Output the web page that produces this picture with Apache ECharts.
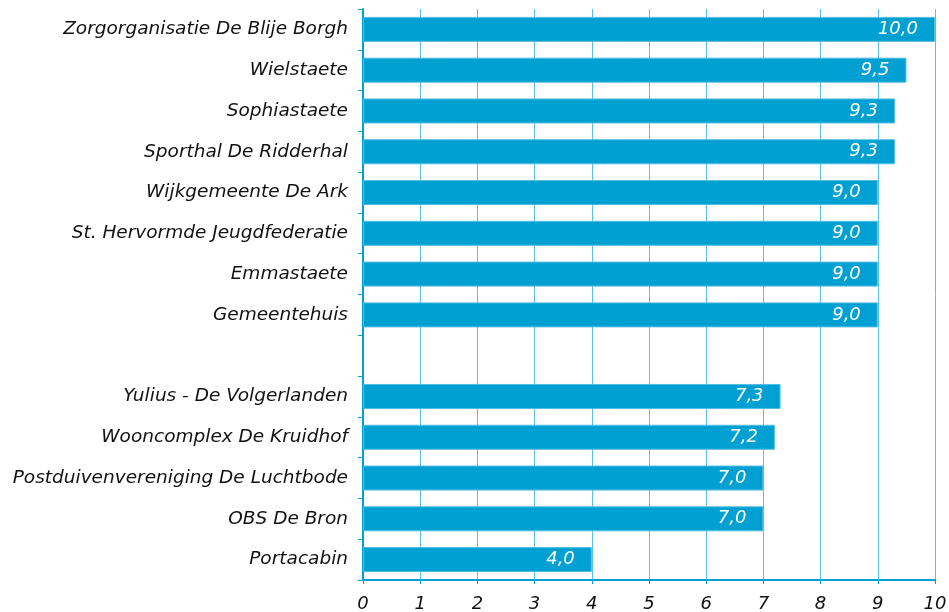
<!DOCTYPE html>
<html>
<head>
  <meta charset="utf-8" />
  <title>Scores</title>
  <script src="https://cdn.jsdelivr.net/npm/echarts@6.0.0/dist/echarts.min.js"></script>
  <style>
    html, body { margin: 0; padding: 0; background: #fff; }
  </style>
</head>
<body>
  <div id="main" style="width: 949px; height: 612px;"></div>
  <script type="text/javascript">
    // categories from top to bottom, empty slot is the gap between the two groups
    var categories = [
      'Zorgorganisatie De Blije Borgh',
      'Wielstaete',
      'Sophiastaete',
      'Sporthal De Ridderhal',
      'Wijkgemeente De Ark',
      'St. Hervormde Jeugdfederatie',
      'Emmastaete',
      'Gemeentehuis',
      '',
      'Yulius - De Volgerlanden',
      'Wooncomplex De Kruidhof',
      'Postduivenvereniging De Luchtbode',
      'OBS De Bron',
      'Portacabin'
    ];
    var scores = [10.0, 9.5, 9.3, 9.3, 9.0, 9.0, 9.0, 9.0, null, 7.3, 7.2, 7.0, 7.0, 4.0];
    var xTicks = [0, 10, 1];   // min, max, interval

    var barColor = '#00A0D2', gridColor = '#5CC0E6', fontColor = '#111';
    var font = '"DejaVu Sans"';

    var myChart = echarts.init(document.getElementById('main'));

    var option = {
      backgroundColor: '#fff',
      animation: false,
      grid: {
        left: 363,
        right: 14,
        top: 9,
        bottom: 32,
        outerBoundsMode: 'none'
      },
      xAxis: {
        type: 'value',
        min: xTicks[0],
        max: xTicks[1],
        interval: xTicks[2],
        axisLine: { show: true, lineStyle: { color: barColor, width: 2 } },
        axisTick: { show: true, length: 4, lineStyle: { color: barColor } },
        splitLine: { show: true, lineStyle: { color: gridColor, width: 1 } },
        axisLabel: {
          margin: 15,
          color: fontColor,
          fontFamily: font,
          fontStyle: 'italic',
          fontSize: 18
        }
      },
      yAxis: {
        type: 'category',
        data: categories,
        inverse: true,
        axisLine: { show: true, lineStyle: { color: barColor, width: 2 } },
        axisTick: { show: true, length: 5, lineStyle: { color: barColor } },
        axisLabel: {
          margin: 15,
          color: fontColor,
          fontFamily: font,
          fontStyle: 'italic',
          fontSize: 18.5
        }
      },
      series: [{
        type: 'bar',
        data: scores,
        barWidth: 25,
        itemStyle: {
          color: barColor,
          borderColor: '#52BCE2',
          borderWidth: 1
        },
        label: {
          show: true,
          position: 'insideRight',
          distance: 17,
          color: '#fff',
          fontFamily: font,
          fontStyle: 'italic',
          fontSize: 18,
          formatter: function (p) {
            return p.value == null ? '' : p.value.toFixed(1).replace('.', ',');
          }
        }
      }]
    };

    myChart.setOption(option);
  </script>
</body>
</html>
